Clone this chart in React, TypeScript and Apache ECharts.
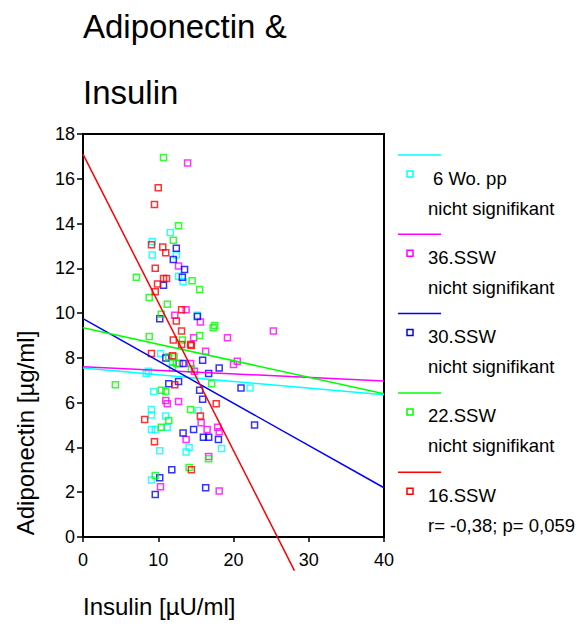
import React, { useEffect, useRef } from "react";
import * as echarts from "echarts";

const titleLines = ["Adiponectin &", "Insulin"];
const xAxisName = "Insulin [µU/ml]";
const yAxisName = "Adiponectin [µg/ml]";

const seriesNames = ["6 Wo. pp", "36.SSW", "30.SSW", "22.SSW", "16.SSW"];
const seriesColors = ["#00FFFF", "#FF00FF", "#0000FF", "#00FF00", "#FF0000"];
const legendNotes = [
  "nicht signifikant",
  "nicht signifikant",
  "nicht signifikant",
  "nicht signifikant",
  "r= -0,38; p= 0,059",
];

// [Insulin, Adiponectin]
const wo6pp: number[][] = [
  [11.6, 13.6], [9.2, 13.2], [9.2, 12.6], [12.4, 12.6], [12.7, 11.65], [13.3, 11.4],
  [15.2, 9.9], [10.3, 8.2], [11.9, 7.8], [8.7, 7.4], [8.4, 7.3], [9.4, 6.5],
  [9.1, 5.7], [9.1, 5.45], [15.3, 5.65], [11.0, 5.4], [9.1, 4.8], [9.6, 4.8],
  [11.2, 4.9], [14.1, 4.0], [13.7, 3.8], [18.4, 3.95], [10.2, 3.85], [9.1, 2.55],
  [22.2, 6.65],
];
const ssw36: number[][] = [
  [13.9, 16.7], [12.7, 12.1], [13.7, 10.15], [12.2, 9.9], [15.6, 9.6], [14.7, 8.9],
  [19.2, 8.9], [25.3, 9.2], [16.3, 8.3], [20.0, 7.7], [20.5, 7.85], [14.3, 7.75],
  [12.8, 7.75], [14.8, 7.4], [11.0, 6.1], [11.2, 5.95], [12.7, 6.05], [15.7, 5.1],
  [16.5, 4.8], [17.9, 4.9], [18.1, 4.7], [13.7, 4.35], [16.7, 3.6], [10.3, 2.25],
  [18.1, 2.05],
];
const ssw30: number[][] = [
  [12.4, 12.9], [12.0, 12.4], [13.5, 11.95], [13.2, 11.6], [10.7, 11.25], [10.2, 9.75],
  [15.2, 9.85], [11.0, 8.0], [15.9, 7.9], [18.1, 7.55], [13.3, 7.75], [16.7, 7.3],
  [11.4, 6.85], [12.7, 6.95], [15.5, 6.55], [21.0, 6.65], [15.9, 6.15], [22.8, 5.0],
  [13.3, 4.65], [14.7, 4.8], [16.0, 4.45], [16.7, 4.45], [18.0, 4.35], [11.8, 3.0],
  [10.2, 2.65], [16.3, 2.2], [9.6, 1.9],
];
const ssw22: number[][] = [
  [10.7, 16.95], [12.7, 13.9], [12.0, 13.25], [14.5, 11.45], [15.5, 11.05], [7.1, 11.6],
  [8.8, 10.7], [11.2, 10.4], [10.4, 9.95], [17.5, 9.45], [17.3, 9.35], [8.8, 8.95],
  [13.2, 8.8], [15.5, 9.0], [11.4, 8.05], [12.1, 8.05], [12.4, 7.75], [11.9, 7.55],
  [14.4, 7.5], [4.3, 6.8], [17.1, 6.85], [10.4, 6.55], [11.0, 6.5], [14.3, 5.7],
  [11.4, 5.2], [10.4, 4.9], [16.7, 3.5], [14.1, 3.1], [9.6, 2.75],
];
const ssw16: number[][] = [
  [10.0, 15.6], [9.5, 14.85], [9.1, 13.05], [10.6, 12.95], [11.0, 12.7], [9.6, 12.0],
  [10.7, 11.55], [11.1, 11.55], [9.9, 11.3], [9.6, 10.95], [13.1, 10.15], [12.4, 9.65],
  [13.1, 9.2], [12.0, 8.8], [13.1, 8.6], [14.3, 8.6], [14.4, 8.55], [9.1, 8.2],
  [11.9, 8.1], [12.2, 6.8], [17.7, 5.95], [15.6, 5.4], [8.2, 5.25], [9.5, 4.25],
  [14.4, 3.0],
];

// regression lines: [start, end]
const fitWo6pp = [[0, 7.55], [40, 6.35]];
const fit36 = [[0, 7.6], [40, 6.97]];
const fit30 = [[0, 9.75], [40, 2.2]];
const fit22 = [[0, 9.35], [40, 6.4]];
const fit16 = [[0, 17.1], [28.1, -1.5]];

const scatterData = [wo6pp, ssw36, ssw30, ssw22, ssw16];
const fitData = [fitWo6pp, fit36, fit30, fit22, fit16];

const FONT = '"Liberation Sans", Arial, Helvetica, sans-serif';

export default function App() {
  const ref = useRef<HTMLDivElement>(null);
  useEffect(() => {
    if (!ref.current) return;
    const chart = echarts.init(ref.current, null, { renderer: "svg" });

    const series: any[] = [];
    scatterData.forEach((d, i) => {
      series.push({
        type: "scatter",
        name: seriesNames[i],
        data: d,
        symbol: "rect",
        symbolSize: 6,
        itemStyle: { color: "rgba(0,0,0,0)", borderColor: seriesColors[i], borderWidth: 1.5 },
        z: 2,
      });
    });
    fitData.forEach((d, i) => {
      series.push({
        type: "line",
        name: seriesNames[i] + " fit",
        data: d,
        showSymbol: false,
        symbol: "none",
        clip: false,
        lineStyle: { color: seriesColors[i], width: 1.5 },
        z: 3,
      });
    });

    const graphics: any[] = [];
    titleLines.forEach((t, i) => {
      graphics.push({
        type: "text",
        x: 83,
        y: i === 0 ? 26 : 92,
        style: { text: t, fill: "#000", fontSize: 33, fontFamily: FONT, align: "left", verticalAlign: "middle" },
      });
    });
    graphics.push({
      type: "text",
      x: 25,
      y: 433,
      rotation: Math.PI / 2,
      style: { text: yAxisName, fill: "#000", fontSize: 24, fontFamily: FONT, align: "center", verticalAlign: "middle" },
    });
    graphics.push({
      type: "text",
      x: 83,
      y: 606,
      style: { text: xAxisName, fill: "#000", fontSize: 24, fontFamily: FONT, align: "left", verticalAlign: "middle" },
    });
    seriesNames.forEach((n, i) => {
      const by = 155 + 79.3 * i;
      graphics.push({
        type: "line",
        shape: { x1: 398, y1: by, x2: 441, y2: by },
        style: { stroke: seriesColors[i], lineWidth: 1.5 },
      });
      graphics.push({
        type: "rect",
        shape: { x: 407, y: by + 16, width: 6, height: 6 },
        style: { fill: "none", stroke: seriesColors[i], lineWidth: 1.5 },
      });
      graphics.push({
        type: "text",
        x: i === 0 ? 433 : 428,
        y: by + 23,
        style: { text: n, fill: "#000", fontSize: 18.5, fontFamily: FONT, align: "left", verticalAlign: "middle" },
      });
      graphics.push({
        type: "text",
        x: 428,
        y: by + 53,
        style: { text: legendNotes[i], fill: "#000", fontSize: 18.5, fontFamily: FONT, align: "left", verticalAlign: "middle" },
      });
    });

    chart.setOption({
      animation: false,
      backgroundColor: "#fff",
      grid: {
        left: 83,
        top: 134,
        right: 197,
        bottom: 96,
        show: true,
        borderColor: "#000",
        borderWidth: 2,
        backgroundColor: "transparent",
      },
      xAxis: {
        type: "value",
        min: 0,
        max: 40,
        interval: 10,
        axisLine: { show: true, onZero: false, lineStyle: { color: "#000", width: 2 } },
        axisTick: { show: true, length: 5, lineStyle: { color: "#000", width: 1.5 } },
        axisLabel: { color: "#000", fontSize: 18, fontFamily: FONT, margin: 14 },
        splitLine: { show: false },
      },
      yAxis: {
        type: "value",
        min: 0,
        max: 18,
        interval: 2,
        axisLine: { show: true, onZero: false, lineStyle: { color: "#000", width: 2 } },
        axisTick: { show: true, length: 6, lineStyle: { color: "#000", width: 1.5 } },
        axisLabel: { color: "#000", fontSize: 18, fontFamily: FONT, margin: 8 },
        splitLine: { show: false },
      },
      series,
      graphic: graphics,
    });
    return () => chart.dispose();
  }, []);
  return (
    <div
      ref={ref}
      style={{ position: "absolute", left: 0, top: 0, width: 581, height: 633, background: "#fff" }}
    />
  );
}
